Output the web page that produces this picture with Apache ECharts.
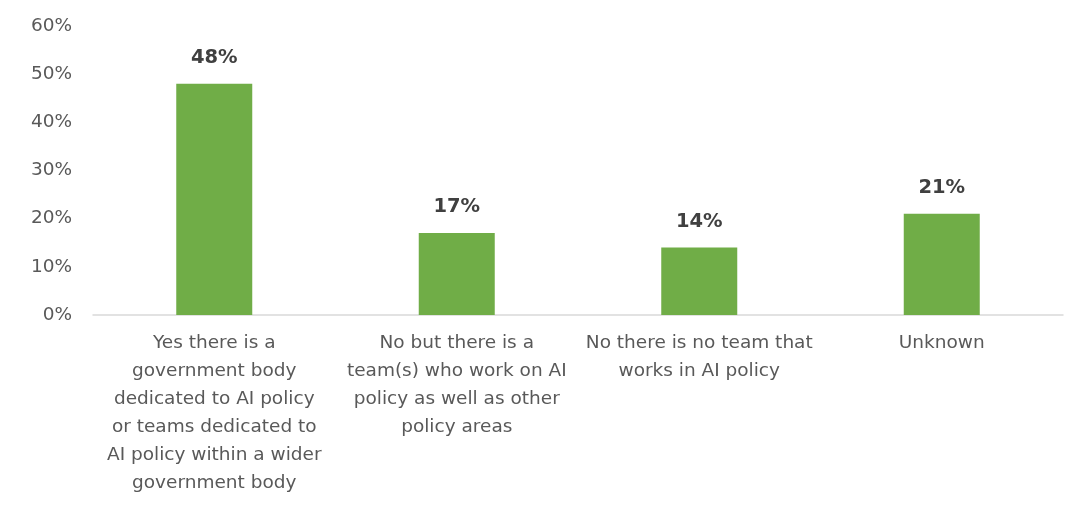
<!DOCTYPE html>
<html>
<head>
<meta charset="utf-8">
<script src="https://cdn.jsdelivr.net/npm/echarts@6/dist/echarts.min.js"></script>
<style>
  html, body { margin: 0; padding: 0; background: #fff; }
  #chart { width: 1078px; height: 506px; }
</style>
</head>
<body>
<div id="chart"></div>
<script>
// Share of respondents by type of AI policy team
const categories = [
  'Yes there is a\ngovernment body\ndedicated to AI policy\nor teams dedicated to\nAI policy within a wider\ngovernment body',
  'No but there is a\nteam(s) who work on AI\npolicy as well as other\npolicy areas',
  'No there is no team that\nworks in AI policy',
  'Unknown'
];
const values = [48, 17, 14, 21];
const yTicks = [0, 10, 20, 30, 40, 50, 60];

const FONT = '"DejaVu Sans", "Noto Sans", sans-serif';

const chart = echarts.init(document.getElementById('chart'));
chart.setOption({
  animation: false,
  grid: { left: 93, right: 15, top: 26, bottom: 191, containLabel: false },
  xAxis: {
    type: 'category',
    data: categories,
    axisLine: { lineStyle: { color: '#d9d9d9', width: 1.5 } },
    axisTick: { show: false },
    axisLabel: {
      color: '#595959',
      fontFamily: FONT,
      fontSize: 18.5,
      lineHeight: 28,
      margin: 14,
      interval: 0,
      align: 'center'
    }
  },
  yAxis: {
    type: 'value',
    min: yTicks[0],
    max: yTicks[yTicks.length - 1],
    interval: 10,
    axisLine: { show: false },
    axisTick: { show: false },
    splitLine: { show: false },
    axisLabel: {
      color: '#595959',
      fontFamily: FONT,
      fontSize: 18.5,
      margin: 21,
      formatter: v => v + '%'
    }
  },
  series: [{
    type: 'bar',
    data: values,
    barWidth: 76,
    itemStyle: { color: '#70AD47' },
    label: {
      show: true,
      position: 'top',
      distance: 16,
      color: '#404040',
      fontFamily: FONT,
      fontSize: 19.5,
      fontWeight: 'bold',
      formatter: p => p.value + '%'
    }
  }]
});
</script>
</body>
</html>
